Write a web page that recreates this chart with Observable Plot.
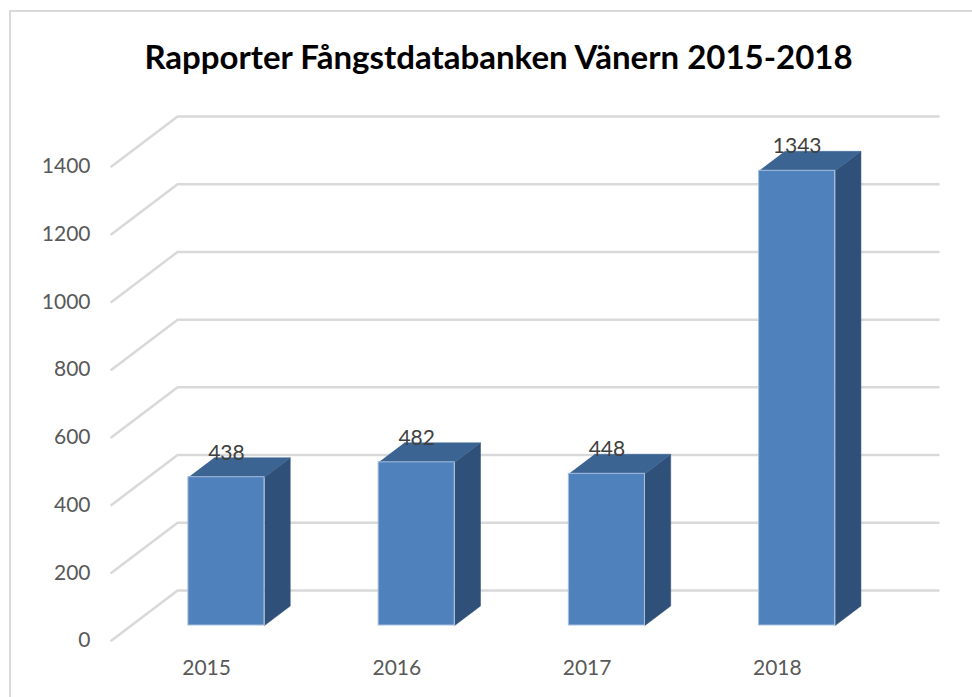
<!DOCTYPE html>
<html lang="sv">
<head>
<meta charset="utf-8">
<script src="https://cdn.jsdelivr.net/npm/d3@7"></script>
<script src="https://cdn.jsdelivr.net/npm/@observablehq/plot@0.6"></script>
<style>
  html, body { margin: 0; padding: 0; background: #fff; overflow: hidden; }
  #frame { position: absolute; left: 9px; top: 10px; right: 0; bottom: 0; border-left: 2px solid #d9d9d9; border-top: 2px solid #d9d9d9; }
  #title { position: absolute; left: 0; top: 0; width: 972px; height: 90px; line-height: 113px; padding-left: 25px; box-sizing: border-box; text-align: center; font: 700 33px/113px Lato, sans-serif; color: #000; white-space: nowrap; }
  #chart { position: absolute; left: 0; top: 90px; }
  #chart svg { display: block; background: transparent; }
</style>
</head>
<body>
<div id="frame"></div>
<div id="title">Rapporter Fångstdatabanken Vänern 2015-2018</div>
<div id="chart"></div>
<script>
const years = ["2015", "2016", "2017", "2018"];
const reports = [438, 482, 448, 1343];
const gridValues = [0, 200, 400, 600, 800, 1000, 1200, 1400];

// Oblique projection of the 3D chart, expressed in data units of the two scales.
const depthX = 66 / 190;      // category units shifted at full depth
const depthY = 147.7;         // value units shifted at full depth
const barStart = 0.3, barEnd = 0.7;   // bar span inside a category
const depthStart = 0.3, depthEnd = 0.69;  // bar span along the depth axis

const px = (u, d) => u + d * depthX;
const py = (v, d) => v + d * depthY;

const gridLines = gridValues.flatMap(v => [
  {v, x: 0, y: v},
  {v, x: depthX, y: py(v, 1)},
  {v, x: years.length + depthX, y: py(v, 1)}
]);

const bars = years.map((year, i) => ({year, i, value: reports[i]}));

const sideFaces = bars.flatMap(b => [
  [barEnd, depthStart, 0], [barEnd, depthEnd, 0], [barEnd, depthEnd, b.value], [barEnd, depthStart, b.value]
].map(([s, d, v]) => ({year: b.year, x: px(b.i + s, d), y: py(v, d)})));

const topFaces = bars.flatMap(b => [
  [barStart, depthStart], [barEnd, depthStart], [barEnd, depthEnd], [barStart, depthEnd]
].map(([s, d]) => ({year: b.year, x: px(b.i + s, d), y: py(b.value, d)})));

const labels = bars.map(b => ({
  text: String(b.value),
  x: px(b.i + 0.5, depthStart),
  y: py(b.value, depthEnd)
}));

const plot = Plot.plot({
  width: 972,
  height: 607,
  marginTop: 26,
  marginBottom: 57,
  marginLeft: 111,
  marginRight: 34,
  style: {fontFamily: "Lato, sans-serif", background: "transparent"},
  x: {domain: [0, years.length + depthX], axis: null},
  y: {domain: [0, py(1400, 1)], axis: null},
  marks: [
    Plot.line(gridLines, {x: "x", y: "y", z: "v", stroke: "#d9d9d9", strokeWidth: 2.5, curve: "linear"}),
    Plot.line(sideFaces, {x: "x", y: "y", z: "year", fill: "#2f5179", stroke: "#2f5179", strokeWidth: 0.5, curve: "linear"}),
    Plot.line(topFaces, {x: "x", y: "y", z: "year", fill: "#3b6493", stroke: "#3b6493", strokeWidth: 0.5, curve: "linear"}),
    Plot.rect(bars, {
      x1: b => px(b.i + barStart, depthStart),
      x2: b => px(b.i + barEnd, depthStart),
      y1: () => py(0, depthStart),
      y2: b => py(b.value, depthStart),
      fill: "#4f81bd",
      stroke: "#a7bfdc",
      strokeWidth: 1
    }),
    Plot.text(labels, {x: "x", y: "y", text: "text", lineAnchor: "bottom", dy: 2, fontSize: 21, fill: "#404040"}),
    Plot.axisY(gridValues, {anchor: "left", tickSize: 0, tickPadding: 21, fontSize: 21, color: "#595959", label: null, tickFormat: d => String(d), fill: "#595959"}),
    Plot.axisX(years.map((_, i) => i + 0.5), {anchor: "bottom", tickSize: 0, tickPadding: 20, fontSize: 21, label: null, tickFormat: d => years[d - 0.5], fill: "#595959"})
  ]
});
document.getElementById("chart").appendChild(plot);
</script>
</body>
</html>
